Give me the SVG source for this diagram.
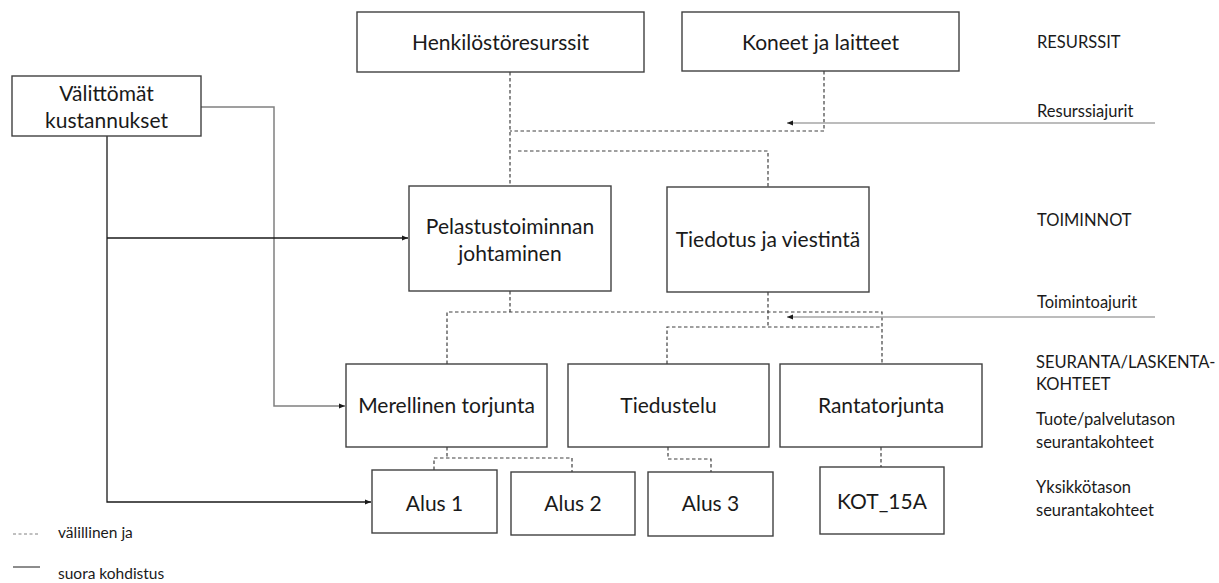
<svg xmlns="http://www.w3.org/2000/svg" width="1219" height="583" viewBox="0 0 1219 583">
<style>
.box{fill:#fff;stroke:#404040;stroke-width:1.4}
.bt{font-family:Lato,"Liberation Sans",sans-serif;font-size:21px;fill:#1a1a1a;text-anchor:middle}
.lab{font-family:Lato,"Liberation Sans",sans-serif;font-size:16.5px;fill:#1a1a1a}
.leg{font-family:Lato,"Liberation Sans",sans-serif;font-size:15.5px;fill:#1a1a1a}
.dash{fill:none;stroke:#404040;stroke-width:1.2;stroke-dasharray:3.5 2.5}
.solid{fill:none;stroke:#1a1a1a;stroke-width:1.3}
.gray{fill:none;stroke:#808080;stroke-width:1.5}
.drv{fill:none;stroke:#a6a6a6;stroke-width:1.5}
</style>
<defs>
<marker id="ah" viewBox="0 0 10 10" refX="10" refY="5" markerWidth="6" markerHeight="6" markerUnits="userSpaceOnUse" orient="auto">
<path d="M0 1 L10 5 L0 9 Z" fill="#1a1a1a"/>
</marker>
</defs>
<rect width="1219" height="583" fill="#fff"/>
<g id="connectors">
<path class="dash" d="M510 72 V186"/>
<path class="dash" d="M824 71 V131 H510"/>
<path class="dash" d="M518 151 H768 V187"/>
<path class="drv" d="M1155 123 H787" marker-end="url(#ah)"/>
<path class="dash" d="M510 291 V312"/>
<path class="dash" d="M447 364 V312 H882 V364"/>
<path class="dash" d="M768 292 V327"/>
<path class="dash" d="M667 364 V327 H882"/>
<path class="drv" d="M1155 317 H787" marker-end="url(#ah)"/>
<path class="dash" d="M447 447 V458"/>
<path class="dash" d="M434 470 V458 H572 V472"/>
<path class="dash" d="M668 447 V459 H711 V472"/>
<path class="dash" d="M881 447 V467"/>
<path class="gray" d="M201 107 H274 V406 H345" marker-end="url(#ah)"/>
<path class="solid" d="M107 136 V502 H371" marker-end="url(#ah)"/>
<path class="solid" d="M107 238 H408" marker-end="url(#ah)"/>
</g>
<g id="valittomat"><rect class="box" x="12" y="76" width="189" height="60"/><text class="bt" x="106.5" y="101">Välittömät</text><text class="bt" x="106.5" y="128">kustannukset</text></g>
<g id="henkilosto"><rect class="box" x="357" y="12" width="287" height="60"/><text class="bt" x="500.5" y="50">Henkilöstöresurssit</text></g>
<g id="koneet"><rect class="box" x="682" y="12" width="277" height="59"/><text class="bt" x="820.5" y="50">Koneet ja laitteet</text></g>
<g id="pelastus"><rect class="box" x="409" y="186" width="202" height="105"/><text class="bt" x="510" y="234">Pelastustoiminnan</text><text class="bt" x="510" y="261">johtaminen</text></g>
<g id="tiedotus"><rect class="box" x="667" y="187" width="202" height="105"/><text class="bt" x="768" y="247">Tiedotus ja viestintä</text></g>
<g id="merellinen"><rect class="box" x="346" y="364" width="201" height="83"/><text class="bt" x="446.5" y="413">Merellinen torjunta</text></g>
<g id="tiedustelu"><rect class="box" x="568" y="364" width="201" height="83"/><text class="bt" x="668.5" y="413">Tiedustelu</text></g>
<g id="rantatorjunta"><rect class="box" x="780" y="364" width="202" height="83"/><text class="bt" x="881" y="413">Rantatorjunta</text></g>
<g id="alus1"><rect class="box" x="372" y="470" width="125" height="63"/><text class="bt" x="434.5" y="511">Alus 1</text></g>
<g id="alus2"><rect class="box" x="511" y="472" width="124" height="63"/><text class="bt" x="573" y="511">Alus 2</text></g>
<g id="alus3"><rect class="box" x="648" y="472" width="125" height="64"/><text class="bt" x="710.5" y="511">Alus 3</text></g>
<g id="kot15a"><rect class="box" x="820" y="467" width="124" height="67"/><text class="bt" x="882" y="509">KOT_15A</text></g>
<g id="labels">
<text class="lab" x="1037" y="48">RESURSSIT</text>
<text class="lab" x="1037" y="117">Resurssiajurit</text>
<text class="lab" x="1037" y="226">TOIMINNOT</text>
<text class="lab" x="1037" y="308">Toimintoajurit</text>
<text class="lab" x="1036" y="368">SEURANTA/LASKENTA-</text>
<text class="lab" x="1036" y="390">KOHTEET</text>
<text class="lab" x="1036" y="425">Tuote/palvelutason</text>
<text class="lab" x="1036" y="448">seurantakohteet</text>
<text class="lab" x="1036" y="493">Yksikkötason</text>
<text class="lab" x="1036" y="516">seurantakohteet</text>
</g>
<g id="legend">
<line x1="13" y1="534" x2="40" y2="534" stroke="#808080" stroke-width="1" stroke-dasharray="3 2.5"/>
<text class="leg" x="58" y="538">välillinen ja</text>
<line x1="13" y1="567" x2="40" y2="567" stroke="#1a1a1a" stroke-width="1"/>
<text class="leg" x="58" y="579">suora kohdistus</text>
</g>
</svg>
